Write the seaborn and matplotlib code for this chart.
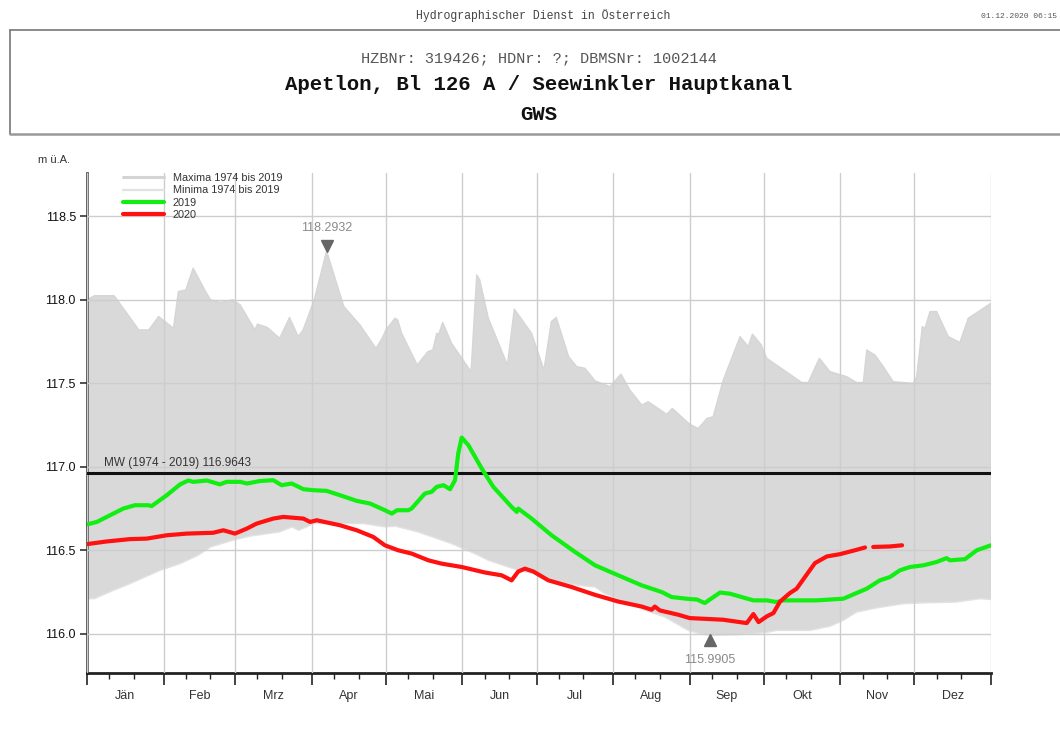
import numpy as np
import matplotlib
matplotlib.use("Agg")
import matplotlib.pyplot as plt
import seaborn as sns
from matplotlib import transforms
from matplotlib.lines import Line2D
from matplotlib.ticker import FormatStrFormatter

# ---------------- data (day of year 2020, 0 = 1 Jan) ----------------
months = ["Jän", "Feb", "Mrz", "Apr", "Mai", "Jun", "Jul", "Aug", "Sep", "Okt", "Nov", "Dez"]
month_starts = [0, 31, 60, 91, 121, 152, 182, 213, 244, 274, 305, 335, 366]
y_ticks = [116.0, 116.5, 117.0, 117.5, 118.0, 118.5]

mw_value = 116.9643

max_days = [0, 3, 11, 21, 25, 29, 35, 37, 40, 43, 48, 50, 54, 59, 62, 68, 69, 73, 78, 82, 85.5, 87.5,
            92, 97, 104, 110.5, 117, 119.5, 121, 124.7, 125.8, 127.4, 133.7, 138, 140, 141.6, 142.3,
            144, 147.6, 155.5, 157.8, 159, 162.5, 170.2, 173, 180, 185, 188, 190, 195, 198.3, 201.6,
            205.7, 211.7, 216.2, 219.8, 224.6, 227.2, 234.7, 237, 244, 247.5, 251, 253.5, 257.6,
            264.4, 267.7, 269.4, 273, 275.2, 289.4, 292, 296.5, 300.8, 307.6, 311.6, 314.3, 315.7,
            319, 322.4, 326.4, 334.5, 335.9, 338.2, 339.3, 341.3, 344, 348.7, 353.4, 356.8, 366]
max_vals = [118.00, 118.025, 118.025, 117.82, 117.82, 117.90, 117.83, 118.05, 118.06, 118.19, 118.05,
            118.00, 117.985, 118.00, 117.97, 117.82, 117.855, 117.835, 117.77, 117.895, 117.78, 117.82,
            118.00, 118.2932, 117.96, 117.85, 117.71, 117.77, 117.82, 117.89, 117.88, 117.80, 117.61,
            117.69, 117.70, 117.80, 117.79, 117.865, 117.74, 117.57, 118.15, 118.12, 117.89, 117.61,
            117.945, 117.80, 117.58, 117.87, 117.895, 117.66, 117.60, 117.59, 117.515, 117.48, 117.555,
            117.46, 117.37, 117.39, 117.315, 117.35, 117.255, 117.23, 117.29, 117.30, 117.52, 117.78,
            117.72, 117.795, 117.73, 117.65, 117.505, 117.505, 117.65, 117.57, 117.54, 117.505, 117.505,
            117.70, 117.67, 117.60, 117.51, 117.50, 117.54, 117.84, 117.83, 117.93, 117.93, 117.78,
            117.745, 117.89, 117.98]

min_days = [0, 3, 10.7, 17.4, 29.6, 37.7, 45, 50, 59, 66, 78, 83, 85.6, 89, 91.6, 112, 120.6, 124.7,
            134, 147.6, 157, 162.5, 174.6, 181.4, 190.8, 199, 205.7, 209.7, 216.5, 226, 234, 243.4,
            248, 252.2, 264.4, 275.2, 279.2, 292.7, 300.8, 306.2, 311.6, 319.7, 330.5, 338.6, 352,
            361.5, 366]
min_vals = [116.21, 116.21, 116.26, 116.30, 116.38, 116.42, 116.47, 116.52, 116.56, 116.585, 116.61,
            116.64, 116.62, 116.64, 116.66, 116.66, 116.64, 116.645, 116.61, 116.54, 116.48, 116.44,
            116.38, 116.36, 116.31, 116.29, 116.28, 116.24, 116.20, 116.14, 116.10, 116.02, 116.00,
            115.9905, 115.995, 116.008, 116.02, 116.02, 116.045, 116.08, 116.13, 116.155, 116.18,
            116.185, 116.19, 116.21, 116.205]

y2019_days = [0, 4, 8, 14.7, 19.4, 24.8, 26.2, 32.3, 37.7, 41, 43, 48.5, 53.8, 56.5, 62, 64.8, 70,
              75.4, 78.8, 82.9, 87.6, 91.6, 97, 102.4, 109.2, 114.6, 120.6, 123.4, 125.5, 130.1,
              131.4, 136.8, 139.5, 141.6, 144.3, 147, 149, 150.3, 151.7, 154.4, 159.8, 164.5, 171.9,
              174, 174.6, 180, 188.1, 197.6, 205.7, 215.1, 224.6, 232.7, 236.7, 244, 247, 250.1,
              256.3, 260.3, 269.8, 275.2, 279.2, 281.9, 295.4, 306.2, 311.6, 315.7, 321, 325.1,
              329.1, 333.2, 338.6, 344, 348, 349.4, 355.5, 360.2, 366]
y2019_vals = [116.655, 116.67, 116.70, 116.75, 116.77, 116.77, 116.765, 116.83, 116.895, 116.918,
              116.91, 116.918, 116.895, 116.91, 116.91, 116.90, 116.915, 116.92, 116.89, 116.90,
              116.866, 116.86, 116.856, 116.83, 116.796, 116.78, 116.74, 116.72, 116.74, 116.74,
              116.75, 116.84, 116.85, 116.88, 116.89, 116.866, 116.92, 117.08, 117.175, 117.13,
              116.99, 116.88, 116.76, 116.73, 116.75, 116.69, 116.59, 116.49, 116.41, 116.35, 116.29,
              116.25, 116.22, 116.208, 116.205, 116.184, 116.247, 116.24, 116.20, 116.20, 116.19,
              116.20, 116.20, 116.21, 116.244, 116.27, 116.32, 116.34, 116.38, 116.40, 116.41,
              116.43, 116.453, 116.44, 116.447, 116.50, 116.53]

y2020_days = [0, 8, 17.4, 24.2, 32.3, 40.4, 51.1, 55.2, 59.9, 64.7, 68.7, 75.4, 79.5, 87.6, 90.3, 93,
              102.4, 109.2, 115.9, 120.6, 126, 131.5, 138.2, 143.6, 151.7, 161.1, 167.9, 171.9, 174.6,
              177.3, 180.7, 186.8, 196.2, 205.7, 215.1, 224.6, 228.6, 229.9, 231.9, 239.4, 244, 257.6,
              267.1, 269.8, 271.9, 275.2, 277.9, 280.6, 284.6, 287.3, 294.7, 299.5, 304.9, 311.6, 315,
              316.5, 318.3, 325.1, 330]
y2020_vals = [116.537, 116.553, 116.567, 116.57, 116.59, 116.60, 116.605, 116.62, 116.60, 116.63,
              116.66, 116.69, 116.70, 116.69, 116.67, 116.68, 116.65, 116.62, 116.58, 116.53, 116.50,
              116.48, 116.44, 116.42, 116.40, 116.367, 116.35, 116.32, 116.373, 116.39, 116.373,
              116.32, 116.28, 116.233, 116.193, 116.163, 116.144, 116.163, 116.14, 116.114, 116.094,
              116.084, 116.064, 116.118, 116.07, 116.104, 116.124, 116.193, 116.244, 116.27, 116.423,
              116.463, 116.477, 116.503, 116.517, np.nan, 116.52, 116.523, 116.53]

# ---------------- figure ----------------
sns.set_theme(style="white")
plt.rcParams["font.family"] = ["Liberation Sans", "DejaVu Sans"]

W, H = 1060, 742
fig = plt.figure(figsize=(W / 100, H / 100), dpi=100)
fig.patch.set_facecolor("white")

# page header
mono = ["Liberation Mono", "DejaVu Sans Mono"]
fig.text(543 / W, 1 - 16 / H, "Hydrographischer Dienst in Österreich", family=mono,
         fontsize=8.3, color="#444", ha="center", va="center")
fig.text(1057 / W, 1 - 16 / H, "01.12.2020 06:15", family=mono, fontsize=5.8,
         color="#555", ha="right", va="center")
fig.text(539 / W, 1 - 58 / H, "HZBNr: 319426; HDNr: ?; DBMSNr: 1002144", family=mono,
         fontsize=11, color="#555", ha="center", va="center")
fig.text(539 / W, 1 - 85 / H, "Apetlon, Bl 126 A / Seewinkler Hauptkanal", family=mono,
         fontsize=14.9, weight="bold", color="#111", ha="center", va="center")
fig.text(539 / W, 1 - 114 / H, "GWS", family=mono, fontsize=14.9, weight="bold",
         color="#111", ha="center", va="center")
for xs, ys, c, lw in [([10 / W, 1], [1 - 30 / H, 1 - 30 / H], "#777", 1.2),
                      ([10 / W, 10 / W], [1 - 30 / H, 1 - 134 / H], "#777", 1.2),
                      ([10 / W, 1], [1 - 134 / H, 1 - 134 / H], "#999", 1.8)]:
    fig.add_artist(Line2D(xs, ys, transform=fig.transFigure, color=c, lw=lw))

ax = fig.add_axes([87 / W, 1 - 673 / H, (991 - 87) / W, (673 - 173) / H])
ax.set_facecolor("white")

# envelope band
ax.fill(np.r_[max_days, min_days[::-1]], np.r_[max_vals, min_vals[::-1]],
        color="#d9d9d9", lw=0, zorder=1)
sns.lineplot(x=max_days, y=max_vals, ax=ax, color="#d6d6d6", lw=1.0, zorder=1.2)
sns.lineplot(x=min_days, y=min_vals, ax=ax, color="#e2e2e2", lw=1.0, zorder=1.2)

# mean line
ax.axhline(mw_value, color="#111", lw=2.2, zorder=3)
ax.annotate(f"MW (1974 - 2019) {mw_value:.4f}", xy=(7, mw_value), xytext=(0, 2.5),
            textcoords="offset points", ha="left", va="bottom", fontsize=8.5, color="#333",
            zorder=5)

# yearly series
sns.lineplot(x=y2019_days, y=y2019_vals, ax=ax, color="#11ee11", lw=3.0, zorder=4)
d20 = np.array(y2020_days, dtype=float)
v20 = np.array(y2020_vals, dtype=float)
breaks = np.where(np.isnan(v20))[0]
for seg_d, seg_v in zip(np.split(d20, breaks), np.split(v20, breaks)):
    ok = ~np.isnan(seg_v)
    sns.lineplot(x=seg_d[ok], y=seg_v[ok], ax=ax, color="#ff1111", lw=3.0, zorder=4.5)

# extreme markers
imax = int(np.argmax(max_vals))
imin = int(np.argmin(min_vals))
up = transforms.offset_copy(ax.transData, fig=fig, x=0, y=5, units="dots")
dn = transforms.offset_copy(ax.transData, fig=fig, x=0, y=-5, units="dots")
ax.plot([max_days[imax]], [max_vals[imax]], marker="v", ms=8, color="#666", ls="none",
        transform=up, zorder=6, clip_on=False)
ax.annotate(f"{max_vals[imax]:.4f}", xy=(max_days[imax], max_vals[imax]), xytext=(0, 16.5),
            textcoords="offset points", ha="center", va="center", fontsize=9, color="#8a8a8a")
ax.plot([min_days[imin]], [min_vals[imin]], marker="^", ms=8, color="#666", ls="none",
        transform=dn, zorder=6, clip_on=False)
ax.annotate(f"{min_vals[imin]:.4f}", xy=(min_days[imin], min_vals[imin]), xytext=(0, -18),
            textcoords="offset points", ha="center", va="center", fontsize=9, color="#8a8a8a")

# axes styling
ax.set_xlim(month_starts[0], month_starts[-1])
ax.set_ylim(115.765, 118.76)
ax.set_xlabel("")
ax.set_ylabel("")
ax.set_xticks(month_starts)
ax.set_xticks([m + o for m in month_starts[:-1] for o in (9, 19)], minor=True)
ax.set_yticks(y_ticks)
ax.yaxis.set_major_formatter(FormatStrFormatter("%.1f"))
ax.grid(True, which="major", color="#cdcdcd", lw=1.0)
ax.set_axisbelow(False)
for gl in ax.get_xgridlines() + ax.get_ygridlines():
    gl.set_zorder(2)
ax.spines["top"].set_visible(False)
ax.spines["right"].set_visible(False)
ax.spines["left"].set_color("#555")
ax.spines["left"].set_linewidth(2)
ax.spines["bottom"].set_color("#222")
ax.spines["bottom"].set_linewidth(2)
ax.tick_params(axis="x", which="major", direction="out", length=8.6, width=1.2,
               color="#222", labelbottom=False, bottom=True)
ax.tick_params(axis="x", which="minor", direction="out", length=4, width=1.0,
               color="#222", bottom=True)
ax.tick_params(axis="y", which="major", direction="out", length=5, width=1.2, color="#333",
               labelsize=9, labelcolor="#111", pad=3, left=True)

sec = ax.secondary_xaxis("bottom")
mids = [(a + b) / 2 for a, b in zip(month_starts[:-1], month_starts[1:])]
sec.set_xticks(mids, labels=months)
sec.tick_params(length=0, pad=12, labelsize=9, labelcolor="#333")
sec.spines["bottom"].set_visible(False)

fig.text(38 / W, 1 - 160 / H, "m ü.A.", fontsize=8, color="#333", ha="left", va="center")

handles = [Line2D([], [], color="#d4d4d4", lw=2.2),
           Line2D([], [], color="#e2e2e2", lw=1.6),
           Line2D([], [], color="#11ee11", lw=3.0),
           Line2D([], [], color="#ff1111", lw=3.0)]
labels = ["Maxima 1974 bis 2019", "Minima 1974 bis 2019", "2019", "2020"]
leg = ax.legend(handles, labels, loc="upper left", bbox_to_anchor=(36 / 904, 1.0),
                frameon=False, fontsize=7.8, handlelength=3.8, handletextpad=0.8,
                labelspacing=0.22, borderpad=0, borderaxespad=0)
for t in leg.get_texts():
    t.set_color("#333")
leg.set_zorder(7)

fig.savefig("out.png", dpi=100)
